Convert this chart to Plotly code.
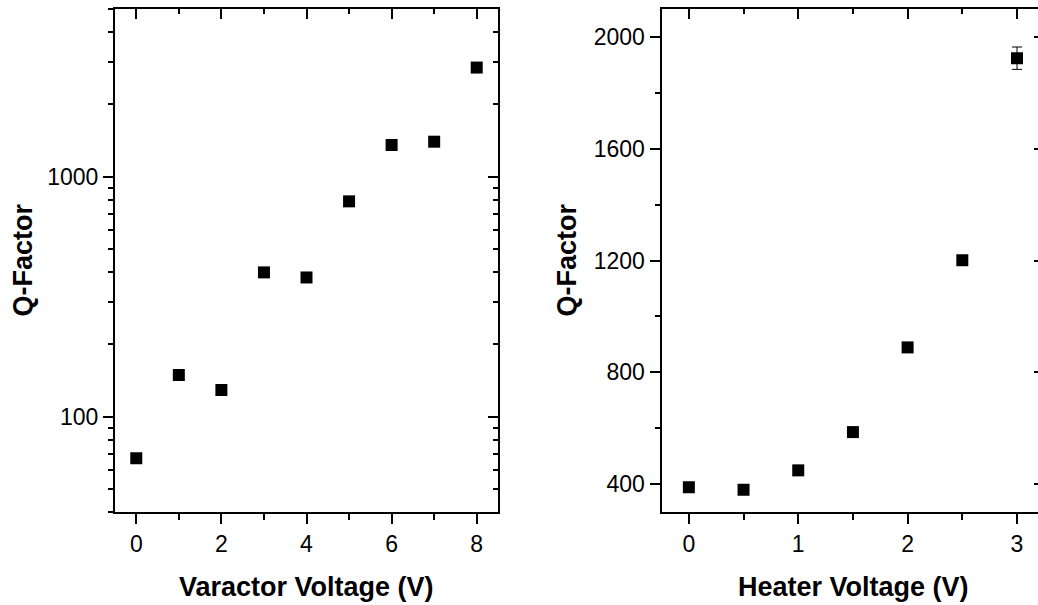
import plotly.graph_objects as go
import math

# Left panel: Q-factor vs varactor voltage (log scale)
varactor_v = [0, 1, 2, 3, 4, 5, 6, 7, 8]
varactor_q = [67, 149, 129, 399, 380, 789, 1355, 1399, 2850]

# Right panel: Q-factor vs heater voltage
heater_v = [0, 0.5, 1, 1.5, 2, 2.5, 3]
heater_q = [389, 380, 449, 586, 889, 1201, 1924]
heater_err = [None, None, None, None, None, None, 40]

left_xticks = [0, 2, 4, 6, 8]
left_yticks = [100, 1000]
right_xticks = [0, 1, 2, 3]
right_yticks = [400, 800, 1200, 1600, 2000]

W, H = 1038, 605
BLACK = "black"
FONT = "Arial, Liberation Sans, sans-serif"
TICKFONT = dict(family=FONT, size=23, color=BLACK)
TITLEFONT = dict(family=FONT, size=27, color=BLACK)

log_minor = [v * m for v in (10, 100, 1000) for m in range(2, 10) if 40 <= v * m <= 5000]

fig = go.Figure()
fig.add_trace(go.Scatter(x=varactor_v, y=varactor_q, mode="markers",
                         marker=dict(symbol="square", size=12, color=BLACK),
                         xaxis="x", yaxis="y", showlegend=False))
fig.add_trace(go.Scatter(x=[], y=[], xaxis="x3", yaxis="y3", showlegend=False, hoverinfo="skip"))
fig.add_trace(go.Scatter(x=heater_v, y=heater_q, mode="markers",
                         marker=dict(symbol="square", size=12, color=BLACK),
                         error_y=dict(type="data", array=heater_err, visible=True,
                                      color=BLACK, thickness=1, width=5),
                         xaxis="x2", yaxis="y2", showlegend=False))
fig.add_trace(go.Scatter(x=[], y=[], xaxis="x4", yaxis="y4", showlegend=False, hoverinfo="skip"))

L_dom = [115 / W, 498 / W]
R_dom = [661.5 / W, 1.0]
L_xr = [-0.5, 8.5]
L_yr = [math.log10(40), math.log10(5000)]
R_xr = [-0.25, 3.192]
R_yr = [300, 2100]

common = dict(showline=True, linewidth=2, linecolor=BLACK, showgrid=False, zeroline=False,
              tickcolor=BLACK, tickwidth=2, tickfont=TICKFONT, automargin=False)

fig.update_layout(
    width=W, height=H,
    margin=dict(l=0, r=0, t=9, b=93),
    paper_bgcolor="white", plot_bgcolor="white",
    font=dict(family=FONT, color=BLACK),
    xaxis=dict(domain=L_dom, range=L_xr, anchor="y", tickmode="array", tickvals=left_xticks,
               ticks="outside", ticklen=10,
               minor=dict(tickmode="array", tickvals=[1, 3, 5, 7], ticks="outside", ticklen=6,
                          tickwidth=2, tickcolor=BLACK, showgrid=False), **common),
    xaxis3=dict(domain=L_dom, range=L_xr, anchor="y", overlaying="x", side="top",
                tickmode="array", tickvals=left_xticks, ticks="inside", ticklen=10,
                showticklabels=False,
                minor=dict(tickmode="array", tickvals=[1, 3, 5, 7], ticks="inside", ticklen=5,
                           tickwidth=2, tickcolor=BLACK, showgrid=False), **common),
    yaxis=dict(domain=[0, 1], type="log", range=L_yr, anchor="x", tickmode="array",
               tickvals=left_yticks, ticks="outside", ticklen=10,
               minor=dict(tickmode="array", tickvals=log_minor, ticks="outside", ticklen=5,
                          tickwidth=2, tickcolor=BLACK, showgrid=False), **common),
    yaxis3=dict(domain=[0, 1], type="log", range=L_yr, anchor="x3", overlaying="y", side="right",
                tickmode="array", tickvals=left_yticks, ticks="inside", ticklen=10,
                showticklabels=False,
                minor=dict(tickmode="array", tickvals=log_minor, ticks="inside", ticklen=5,
                           tickwidth=2, tickcolor=BLACK, showgrid=False), **common),
    xaxis2=dict(domain=R_dom, range=R_xr, anchor="y2", tickmode="array", tickvals=right_xticks,
                ticks="outside", ticklen=10,
                minor=dict(tickmode="array", tickvals=[0.5, 1.5, 2.5], ticks="outside", ticklen=6,
                           tickwidth=2, tickcolor=BLACK, showgrid=False), **common),
    xaxis4=dict(domain=R_dom, range=R_xr, anchor="y2", overlaying="x2", side="top",
                tickmode="array", tickvals=right_xticks, ticks="inside", ticklen=10,
                showticklabels=False,
                minor=dict(tickmode="array", tickvals=[0.5, 1.5, 2.5], ticks="inside", ticklen=5,
                           tickwidth=2, tickcolor=BLACK, showgrid=False), **common),
    yaxis2=dict(domain=[0, 1], range=R_yr, anchor="x2", tickmode="array", tickvals=right_yticks,
                ticks="outside", ticklen=10,
                minor=dict(tickmode="array", tickvals=[600, 1000, 1400, 1800], ticks="outside",
                           ticklen=5, tickwidth=2, tickcolor=BLACK, showgrid=False), **common),
    yaxis4=dict(domain=[0, 1], range=R_yr, anchor="x4", overlaying="y2", side="right",
                tickmode="array", tickvals=right_yticks, ticks="inside", ticklen=4,
                showticklabels=False, showline=False, showgrid=False, zeroline=False,
                tickcolor=BLACK, tickwidth=2, automargin=False),
)

ann = dict(xref="paper", yref="paper", showarrow=False, font=TITLEFONT)
plot_h = H - 9 - 93
fig.add_annotation(text="<b>Varactor Voltage (V)</b>", x=306.5 / W, y=-(587 - 512) / plot_h,
                   xanchor="center", yanchor="middle", **ann)
fig.add_annotation(text="<b>Heater Voltage (V)</b>", x=853 / W, y=-(587 - 512) / plot_h,
                   xanchor="center", yanchor="middle", **ann)
fig.add_annotation(text="<b>Q-Factor</b>", x=22 / W, y=0.5, textangle=-90,
                   xanchor="center", yanchor="middle", **ann)
fig.add_annotation(text="<b>Q-Factor</b>", x=566 / W, y=0.5, textangle=-90,
                   xanchor="center", yanchor="middle", **ann)

fig.write_html("out.html", config={"displayModeBar": False},
               post_script="document.body.style.margin='0';document.body.style.overflow='hidden';")
